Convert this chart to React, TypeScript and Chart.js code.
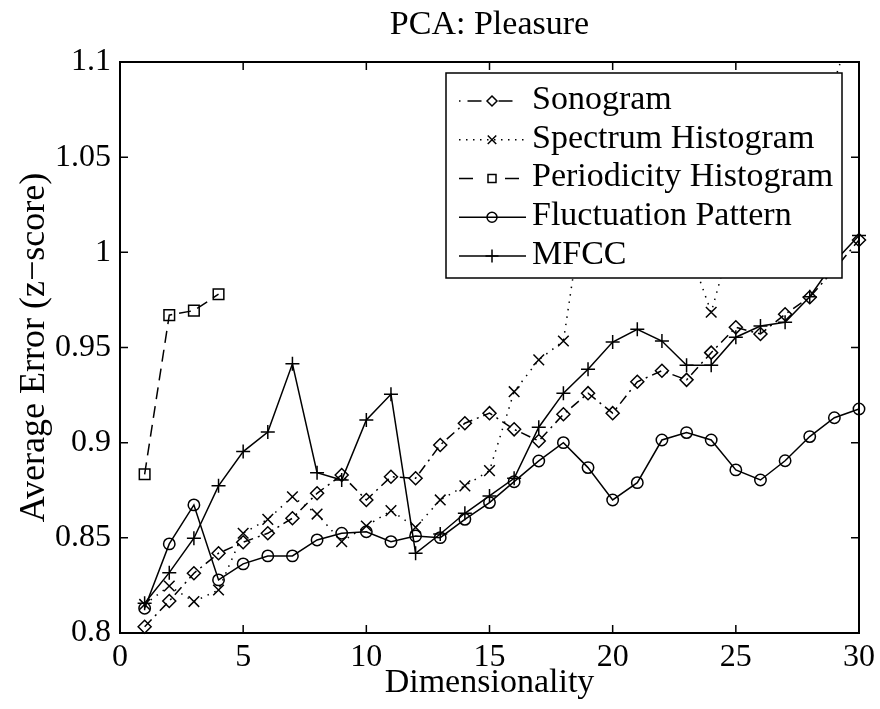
import React, { useEffect, useRef } from 'react';
import { Chart, registerables } from 'chart.js';

Chart.register(...registerables);

const FONT = 'Liberation Serif';

const dims = [1, 2, 3, 4, 5, 6, 7, 8, 9, 10, 11, 12, 13, 14, 15, 16, 17, 18, 19, 20, 21, 22, 23, 24, 25, 26, 27, 28, 29, 30];
const periodicityDims = [1, 2, 3, 4];

const sonogram = [0.8033, 0.8168, 0.8314, 0.8419, 0.8477, 0.8524, 0.8603, 0.8734, 0.883, 0.8699, 0.8821, 0.8813, 0.8988, 0.9102, 0.9155, 0.907, 0.9009, 0.9149, 0.926, 0.9155, 0.932, 0.9378, 0.933, 0.9473, 0.9606, 0.9571, 0.9675, 0.9764, 0.991, 1.0065];
const spectrumHistogram = [0.815, 0.8247, 0.8165, 0.8226, 0.8524, 0.8597, 0.8716, 0.8625, 0.848, 0.8562, 0.8643, 0.8555, 0.8699, 0.8773, 0.8853, 0.9268, 0.9435, 0.9534, 1.04, 1.06, 1.05, 1.03, 1.005, 0.9685, 1.015, 1.04, 1.06, 1.075, 1.09, 1.13];
const periodicityHistogram = [0.8834, 0.967, 0.9694, 0.978];
const fluctuationPattern = [0.813, 0.8468, 0.8673, 0.8279, 0.8363, 0.8405, 0.8405, 0.8489, 0.8524, 0.8532, 0.848, 0.851, 0.8501, 0.8597, 0.8685, 0.8795, 0.8904, 0.9, 0.8869, 0.8699, 0.879, 0.9014, 0.9053, 0.9014, 0.8857, 0.8804, 0.8905, 0.9032, 0.9131, 0.9177];
const mfcc = [0.8156, 0.8317, 0.8498, 0.8773, 0.8953, 0.9056, 0.9414, 0.8842, 0.8804, 0.9119, 0.9254, 0.8419, 0.852, 0.8629, 0.872, 0.8813, 0.9081, 0.926, 0.9386, 0.9529, 0.9596, 0.9534, 0.9407, 0.9407, 0.9554, 0.9613, 0.9633, 0.9767, 0.995, 1.0088];

const xTicks = [0, 5, 10, 15, 20, 25, 30];
const xTickLabels = ['0', '5', '10', '15', '20', '25', '30'];
const yTicks = [0.8, 0.85, 0.9, 0.95, 1, 1.05, 1.1];
const yTickLabels = ['0.8', '0.85', '0.9', '0.95', '1', '1.05', '1.1'];

const toPoints = (xs: number[], ys: number[]) => xs.map((x, i) => ({ x, y: ys[i] }));

type LegendStyle = { dash: number[]; marker: string; r: number };
const legendStyles: LegendStyle[] = [
  { dash: [1.5, 7, 14, 17, 14, 200], marker: 'diamond', r: 5 },
  { dash: [1.5, 5.5], marker: 'x', r: 6 },
  { dash: [14, 32, 14, 200], marker: 'square', r: 5 },
  { dash: [], marker: 'circle', r: 5 },
  { dash: [], marker: 'plus', r: 6.5 },
];

function drawMarker(ctx: CanvasRenderingContext2D, kind: string, x: number, y: number, r: number) {
  ctx.beginPath();
  if (kind === 'diamond') {
    ctx.moveTo(x, y - r); ctx.lineTo(x + r, y); ctx.lineTo(x, y + r); ctx.lineTo(x - r, y); ctx.closePath();
  } else if (kind === 'x') {
    const d = r * Math.SQRT1_2;
    ctx.moveTo(x - d, y - d); ctx.lineTo(x + d, y + d); ctx.moveTo(x + d, y - d); ctx.lineTo(x - d, y + d);
  } else if (kind === 'square') {
    ctx.rect(x - r * 0.8, y - r * 0.8, r * 1.6, r * 1.6);
  } else if (kind === 'circle') {
    ctx.arc(x, y, r, 0, Math.PI * 2);
  } else if (kind === 'plus') {
    ctx.moveTo(x - r, y); ctx.lineTo(x + r, y); ctx.moveTo(x, y - r); ctx.lineTo(x, y + r);
  }
  ctx.stroke();
}

const framePlugin = {
  id: 'matlabFrame',
  afterDatasetsDraw(chart: any) {
    const { ctx, chartArea: a, scales } = chart;
    ctx.save();
    ctx.strokeStyle = '#000';
    ctx.setLineDash([]);
    ctx.lineWidth = 1.5;
    const L = 8;
    ctx.beginPath();
    for (const v of xTicks) {
      const px = scales.x.getPixelForValue(v);
      ctx.moveTo(px, a.bottom); ctx.lineTo(px, a.bottom - L);
      ctx.moveTo(px, a.top); ctx.lineTo(px, a.top + L);
    }
    for (const v of yTicks) {
      const py = scales.y.getPixelForValue(v);
      ctx.moveTo(a.left, py); ctx.lineTo(a.left + L, py);
      ctx.moveTo(a.right, py); ctx.lineTo(a.right - L, py);
    }
    ctx.stroke();
    ctx.lineWidth = 2;
    ctx.strokeRect(a.left, a.top, a.right - a.left, a.bottom - a.top);
    ctx.restore();
  },
};

const boxLegendPlugin = {
  id: 'boxLegend',
  afterDraw(chart: any) {
    const { ctx, chartArea: a } = chart;
    const w = 396, h = 205;
    const x0 = a.right - 17 - w;
    const y0 = a.top + 11;
    ctx.save();
    ctx.fillStyle = '#fff';
    ctx.fillRect(x0, y0, w, h);
    ctx.strokeStyle = '#000';
    ctx.lineWidth = 1.5;
    ctx.setLineDash([]);
    ctx.strokeRect(x0, y0, w, h);
    chart.data.datasets.forEach((ds: any, i: number) => {
      const st = legendStyles[i];
      const cy = y0 + 27 + i * 38.75;
      ctx.lineWidth = 1.5;
      ctx.setLineDash(st.dash);
      ctx.beginPath();
      ctx.moveTo(x0 + 13, cy + 1);
      ctx.lineTo(x0 + 80, cy + 1);
      ctx.stroke();
      ctx.setLineDash([]);
      drawMarker(ctx, st.marker, x0 + 46, cy + 1, st.r);
      ctx.fillStyle = '#000';
      ctx.font = `34px "${FONT}"`;
      ctx.textBaseline = 'middle';
      ctx.textAlign = 'left';
      ctx.fillText(ds.label, x0 + 86, cy);
    });
    ctx.restore();
  },
};

export default function App() {
  const ref = useRef<HTMLCanvasElement | null>(null);

  useEffect(() => {
    if (!ref.current) return;
    const common = {
      borderColor: '#000',
      borderWidth: 1.5,
      pointBorderColor: '#000',
      pointBackgroundColor: 'rgba(0,0,0,0)',
      pointBorderWidth: 1.5,
      tension: 0,
      fill: false,
      clip: { left: 12, top: 0, right: 12, bottom: 12 },
    };
    const chart = new Chart(ref.current, {
      type: 'line',
      data: {
        datasets: [
          { ...common, label: 'Sonogram', data: toPoints(dims, sonogram), borderDash: [10, 5, 2, 5], pointStyle: 'rectRot', pointRadius: 6.5 },
          { ...common, label: 'Spectrum Histogram', data: toPoints(dims, spectrumHistogram), borderDash: [1.5, 6], pointStyle: 'crossRot', pointRadius: 7.5 },
          { ...common, label: 'Periodicity Histogram', data: toPoints(periodicityDims, periodicityHistogram), borderDash: [12, 7], pointStyle: 'rect', pointRadius: 7.5 },
          { ...common, label: 'Fluctuation Pattern', data: toPoints(dims, fluctuationPattern), pointStyle: 'circle', pointRadius: 5.7 },
          { ...common, label: 'MFCC', data: toPoints(dims, mfcc), pointStyle: 'cross', pointRadius: 7 },
        ] as any,
      },
      options: {
        responsive: false,
        animation: false,
        events: [],
        layout: { padding: { left: 0, right: 20, top: 0, bottom: 0 } },
        scales: {
          x: {
            type: 'linear',
            min: 0,
            max: 30,
            afterBuildTicks: (s: any) => { s.ticks = xTicks.map((v) => ({ value: v })); },
            afterFit: (s: any) => { s.height = 76; },
            grid: { display: false, drawTicks: false },
            border: { display: false },
            ticks: {
              color: '#000',
              padding: 5,
              maxRotation: 0,
              autoSkip: false,
              font: { family: FONT, size: 32 },
              callback: (v: any) => xTickLabels[xTicks.indexOf(Number(v))],
            },
            title: {
              display: true,
              text: 'Dimensionality',
              color: '#000',
              font: { family: FONT, size: 34 },
              padding: { top: 0, bottom: 6 },
            },
          },
          y: {
            type: 'linear',
            min: 0.8,
            max: 1.1,
            afterBuildTicks: (s: any) => { s.ticks = yTicks.map((v) => ({ value: v })); },
            afterFit: (s: any) => { s.width = 120; },
            grid: { display: false, drawTicks: false },
            border: { display: false },
            ticks: {
              color: '#000',
              padding: 9,
              autoSkip: false,
              font: { family: FONT, size: 32 },
              callback: (v: any) => {
                const k = yTicks.findIndex((t) => Math.abs(t - Number(v)) < 1e-9);
                return k >= 0 ? yTickLabels[k] : '';
              },
            },
            title: {
              display: true,
              text: 'Average Error (z\u2212score)',
              color: '#000',
              font: { family: FONT, size: 36 },
              padding: { top: 13, bottom: 0 },
            },
          },
        },
        plugins: {
          legend: { display: false },
          tooltip: { enabled: false },
          title: {
            display: true,
            text: 'PCA: Pleasure',
            color: '#000',
            fullSize: false,
            font: { family: FONT, size: 34, weight: 'normal' },
            padding: { top: 5, bottom: 16.2 },
          },
        },
      } as any,
      plugins: [framePlugin, boxLegendPlugin],
    });
    return () => chart.destroy();
  }, []);

  return (
    <div style={{ position: 'fixed', left: 0, top: 0, width: 880, height: 709, background: '#fff' }}>
      <canvas ref={ref} width={880} height={709} style={{ display: 'block', width: 880, height: 709 }} />
    </div>
  );
}
